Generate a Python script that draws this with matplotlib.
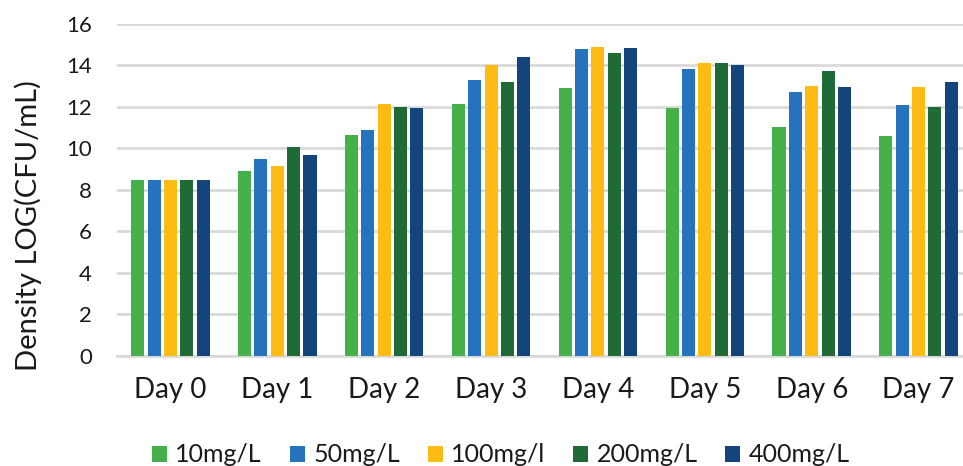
import matplotlib
matplotlib.use("Agg")
import matplotlib.pyplot as plt
import numpy as np

days = ["Day 0", "Day 1", "Day 2", "Day 3", "Day 4", "Day 5", "Day 6", "Day 7"]
series_names = ["10mg/L", "50mg/L", "100mg/l", "200mg/L", "400mg/L"]
s10 = [8.45, 8.89, 10.62, 12.13, 12.90, 11.92, 11.02, 10.60]
s50 = [8.45, 9.49, 10.89, 13.27, 14.75, 13.83, 12.69, 12.07]
s100 = [8.45, 9.16, 12.13, 13.98, 14.88, 14.12, 12.98, 12.93]
s200 = [8.45, 10.06, 12.00, 13.20, 14.60, 14.12, 13.70, 12.00]
s400 = [8.45, 9.66, 11.94, 14.38, 14.80, 13.98, 12.93, 13.20]
colors = ["#46b04a", "#2473bc", "#fdbb14", "#1f6a36", "#13447c"]
yticks = [0, 2, 4, 6, 8, 10, 12, 14, 16]

plt.rcParams['font.family'] = ['Lato', 'DejaVu Sans']

fig = plt.figure(figsize=(9.63, 4.66), dpi=100)
ax = fig.add_axes([117/963, (466-355.7)/466, (972-117)/963, (355.7-23.5)/466])

x = np.arange(len(days))
slot = 0.153
bw = 0.122
allvals = [s10, s50, s100, s200, s400]
for i, (vals, name, c) in enumerate(zip(allvals, series_names, colors)):
    ax.bar(x + (i - 2) * slot, vals, width=bw, color=c, label=name, zorder=3)

ax.set_xlim(-0.5, 7.5)
ax.set_ylim(0, 16)
ax.set_yticks(yticks)
ax.set_xticks(x)
ax.set_xticklabels(days)
ax.tick_params(axis='both', length=0, colors='#1a1a1a')
ax.tick_params(axis='y', pad=18, labelsize=16)
ax.tick_params(axis='x', pad=15, labelsize=20)
ax.grid(axis='y', color='#d9d9d9', linewidth=2, zorder=0)
for s in ['top', 'right', 'left']:
    ax.spines[s].set_visible(False)
ax.spines['bottom'].set_color('#d9d9d9')
ax.spines['bottom'].set_linewidth(2)
ax.set_ylabel("Density LOG(CFU/mL)", fontsize=21, color='#1a1a1a', va='center')
ax.yaxis.set_label_coords((28 - 117) / 855, (355.7 - 226) / 332.2)

leg = fig.legend(loc='center', bbox_to_anchor=(501/963, (466-455)/466), ncol=5,
                 frameon=False, fontsize=18, handlelength=0.6, handleheight=0.6,
                 handletextpad=0.35, columnspacing=1.1)
for t in leg.get_texts():
    t.set_color('#1a1a1a')

fig.savefig("out.png", dpi=100)
